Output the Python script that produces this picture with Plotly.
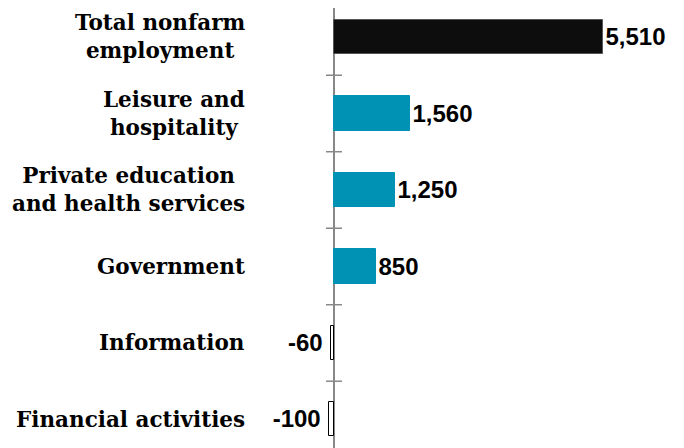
import plotly.graph_objects as go

categories = ["Total nonfarm<br>employment", "Leisure and<br>hospitality",
              "Private education<br>and health services", "Government",
              "Information", "Financial activities"]
values = [5510, 1560, 1250, 850, -60, -100]
fill_colors = ["#0d0d0d", "#0092b4", "#0092b4", "#0092b4", "#ffffff", "#ffffff"]
line_colors = ["#555555", "#0092b4", "#0092b4", "#0092b4", "#000000", "#000000"]
labels = [f"{v:,}" + ("\u2009" if v < 0 else "") for v in values]
ypos = list(range(len(categories)))

# page has an 8px body margin, so the figure is sized to fit the window
W, H, L = 676, 440, 242

fig = go.Figure(go.Bar(
    x=values, y=ypos, orientation="h", width=0.445,
    marker=dict(color=fill_colors, line=dict(color=line_colors, width=1)),
    text=labels, textposition="outside", cliponaxis=False,
    textfont=dict(family="Liberation Sans", size=24, color="#000000", weight="bold"),
))

for i, c in enumerate(categories):
    fig.add_annotation(x=(239 - L) / (W - L), xref="paper", xanchor="right", y=i, yref="y",
                       text=c, showarrow=False, align="center",
                       font=dict(family="DejaVu Serif", size=21.5, color="#000000", weight="bold"))

for i in range(len(categories) - 1):
    fig.add_shape(type="line", xref="x", xsizemode="pixel", xanchor=0, x0=-8, x1=8,
                  yref="y", y0=i + 0.5, y1=i + 0.5, line=dict(color="#888888", width=1.5))

fig.update_layout(
    width=W, height=H, margin=dict(l=L, r=0, t=0, b=0, autoexpand=False),
    plot_bgcolor="#ffffff", paper_bgcolor="#ffffff", showlegend=False,
    bargap=0,
    xaxis=dict(range=[-1718.5, 7160], showgrid=False, showticklabels=False, ticks="",
               zeroline=True, zerolinecolor="#888888", zerolinewidth=1.5, fixedrange=True),
    yaxis=dict(range=[5.373, -0.379], showgrid=False, showticklabels=False, ticks="",
               zeroline=False, showline=False),
)
fig.write_html("out.html")
